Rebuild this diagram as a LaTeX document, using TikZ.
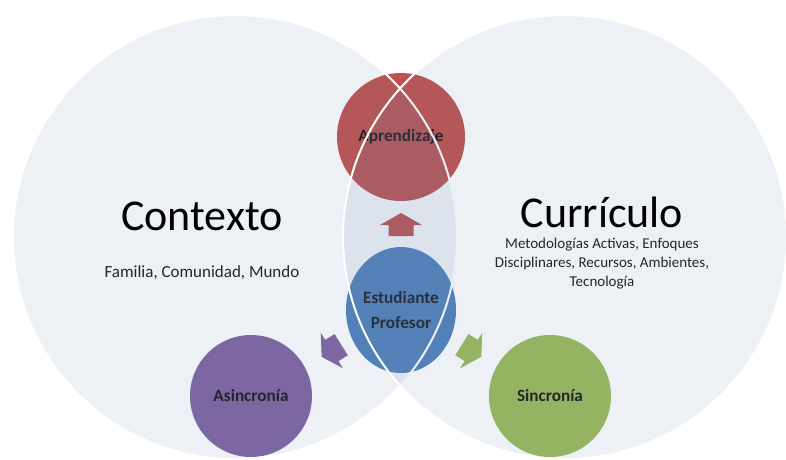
\documentclass[tikz,border=0pt]{standalone}
\usepackage{fontspec}
\setmainfont{Carlito}
\usetikzlibrary{shapes.geometric}
\definecolor{veil}{RGB}{105,130,172}
\definecolor{appred}{RGB}{192,80,77}
\definecolor{stublue}{RGB}{79,129,189}
\definecolor{asyncpurple}{RGB}{128,100,162}
\definecolor{syncgreen}{RGB}{155,187,89}
\tikzset{
    big-circle/.style = {circle, draw=white, line width=2pt, fill=veil, fill opacity=0.12, minimum size=444pt, inner sep=0pt},
    small-circle/.style = {circle, minimum size=122pt, inner sep=0pt, font=\fontsize{17.2}{25}\selectfont\bfseries, text=black!90, align=center},
    big-title/.style = {font=\fontsize{44}{50}\selectfont, text=black},
    sub-text/.style = {font=\fontsize{15}{19}\selectfont, text=black!85, align=center},
    pics/block-arrow/.style = {code={
        \fill (-12,-12.5) -- (-1,-12.5) -- (-1,-21) -- (11,0) -- (-1,21) -- (-1,12.5) -- (-12,12.5) -- cycle;
    }},
}

\begin{document}
\begin{tikzpicture}[x=1pt, y=-1pt]
\useasboundingbox (0,0) rectangle (786,459);
% inner circles
\node[small-circle, fill=appred, minimum size=128pt] (aprendizaje) at (401,137) {Aprendizaje};
\node[small-circle, ellipse, fill=stublue, minimum width=110pt, minimum height=126pt] (estudiante) at (401,310) {Estudiante\\Profesor};
\node[small-circle, fill=asyncpurple] (asincronia) at (251,396) {Asincronía};
\node[small-circle, fill=syncgreen] (sincronia) at (550,396) {Sincronía};
% arrows
\pic[appred, rotate=90] at (401,224) {block-arrow};
\pic[asyncpurple, rotate=212] at (331,351) {block-arrow};
\pic[syncgreen, rotate=-32] at (472,351) {block-arrow};
% outer circles
\node[big-circle] (contexto) at (235,237) {};
\node[big-circle] (curriculo) at (565,237) {};
% titles
\node[big-title] (contexto-title) at (202,216) {Contexto};
\node[sub-text, font=\fontsize{17}{20}\selectfont] (contexto-text) at (202,273) {Familia, Comunidad, Mundo};
\node[big-title] (curriculo-title) at (602,212) {Currículo};
\node[sub-text] (curriculo-text) at (602,264) {Metodologías Activas, Enfoques\\Disciplinares, Recursos, Ambientes,\\Tecnología};
\end{tikzpicture}
\end{document}
